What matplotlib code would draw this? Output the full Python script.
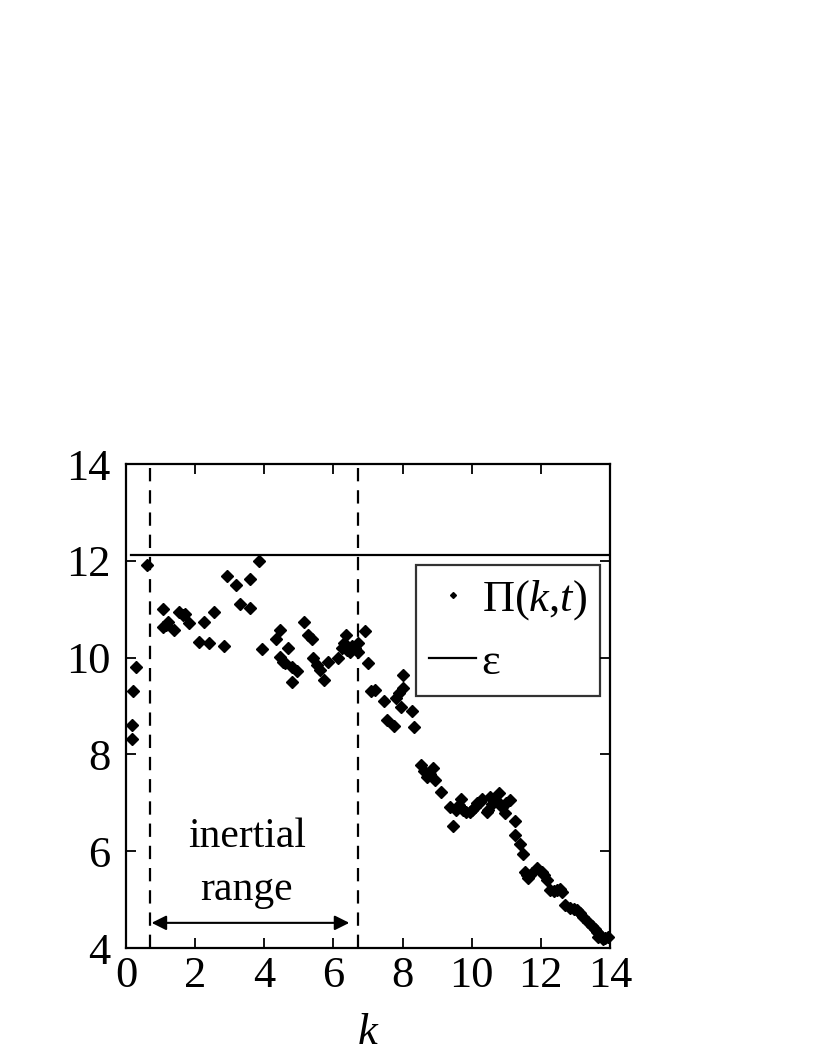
import numpy as np
import matplotlib
matplotlib.use("Agg")
import matplotlib.pyplot as plt

plt.rcParams['font.family'] = ['Liberation Serif', 'DejaVu Serif']
plt.rcParams['mathtext.fontset'] = 'custom'
plt.rcParams['mathtext.rm'] = 'Liberation Serif'
plt.rcParams['mathtext.it'] = 'Liberation Serif:italic'

# Pi(k,t) punkte
k_vals = [0.16, 0.18, 0.21, 0.28, 0.60, 1.08, 1.08, 1.15, 1.22, 1.40,
          1.54, 1.65, 1.71, 1.82, 2.11, 2.26, 2.40, 2.55, 2.82, 2.93,
          3.18, 3.30, 3.59, 3.59, 3.85, 3.93, 4.33, 4.45, 4.45, 4.55,
          4.60, 4.70, 4.79, 4.81, 4.94, 5.16, 5.27, 5.37, 5.42, 5.52,
          5.61, 5.73, 5.83, 6.14, 6.26, 6.30, 6.36, 6.40, 6.48, 6.55,
          6.62, 6.70, 6.72, 6.91, 7.01, 7.09, 7.20, 7.47, 7.54, 7.75,
          7.81, 7.90, 7.95, 8.02, 8.02, 8.26, 8.34, 8.53, 8.62, 8.70,
          8.80, 8.89, 8.94, 9.10, 9.37, 9.47, 9.55, 9.62, 9.68, 9.76,
          9.83, 9.95, 10.00, 10.10, 10.14, 10.24, 10.29, 10.43, 10.48, 10.53,
          10.60, 10.70, 10.80, 10.87, 10.96, 11.00, 11.11, 11.25, 11.25, 11.40,
          11.47, 11.54, 11.60, 11.64, 11.75, 11.88, 12.02, 12.10, 12.17, 12.26,
          12.38, 12.48, 12.55, 12.62, 12.70, 12.84, 12.95, 13.05, 13.13, 13.22,
          13.37, 13.47, 13.57, 13.61, 13.66, 13.72, 13.80, 13.86, 13.95]
pi_vals = [8.61, 8.31, 9.32, 9.80, 11.91, 11.00, 10.63, 10.68, 10.74, 10.57,
           10.95, 10.88, 10.90, 10.71, 10.32, 10.74, 10.31, 10.95, 10.23, 11.69,
           11.50, 11.10, 11.62, 11.03, 12.00, 10.17, 10.38, 10.57, 10.02, 9.90,
           9.88, 10.19, 9.81, 9.50, 9.73, 10.74, 10.47, 10.38, 9.99, 9.85,
           9.74, 9.54, 9.91, 10.00, 10.19, 10.30, 10.47, 10.15, 10.12, 10.25,
           10.20, 10.30, 10.12, 10.56, 9.88, 9.32, 9.33, 9.10, 8.72, 8.59,
           9.17, 9.26, 8.99, 9.64, 9.37, 8.90, 8.56, 7.78, 7.65, 7.54,
           7.60, 7.71, 7.47, 7.23, 6.92, 6.52, 6.85, 6.95, 7.07, 6.85,
           6.82, 6.82, 6.85, 6.92, 6.99, 7.02, 7.07, 6.82, 6.85, 7.13,
           6.98, 7.05, 7.20, 6.92, 6.78, 7.00, 7.06, 6.62, 6.33, 6.15,
           5.94, 5.58, 5.50, 5.44, 5.55, 5.65, 5.58, 5.50, 5.40, 5.20,
           5.18, 5.20, 5.22, 5.15, 4.89, 4.82, 4.80, 4.78, 4.72, 4.65,
           4.54, 4.46, 4.40, 4.34, 4.22, 4.27, 4.18, 4.20, 4.22]

eps = 12.12
inertial_lo = 0.7
inertial_hi = 6.7
x_ticks = [0, 2, 4, 6, 8, 10, 12, 14]
y_ticks = [4, 6, 8, 10, 12, 14]

fig = plt.figure(figsize=(8.22, 10.64), dpi=100)
ax = fig.add_axes([0.1533, 0.1090, 0.5888, 0.4549])

ax.plot(k_vals, pi_vals, 'D', color='black', markersize=6, clip_on=False,
        label=r'$\Pi(k{,}t)$')
ax.plot([0.15, 14], [eps, eps], '-', color='black', lw=1.6, label='ε')

# inertial range
for kk in (inertial_lo, inertial_hi):
    ax.axvline(kk, color='black', lw=1.6, linestyle=(0, (6, 4)))
ax.annotate('', xy=(0.74, 4.52), xytext=(6.46, 4.52),
            arrowprops=dict(arrowstyle='<|-|>', color='black', lw=1.5,
                            mutation_scale=22, shrinkA=0, shrinkB=0))
ax.text(3.49, 6.09, 'inertial', fontsize=30, ha='center', va='baseline')
ax.text(3.49, 4.99, 'range', fontsize=30, ha='center', va='baseline')

ax.set_xlim(0, 14)
ax.set_ylim(4, 14)
ax.set_xticks(x_ticks)
ax.set_yticks(y_ticks)
ax.tick_params(direction='in', top=True, right=True, length=7, width=1.3,
               labelsize=32)
ax.tick_params(axis='x', pad=6)
ax.tick_params(axis='y', pad=11)
for s in ax.spines.values():
    s.set_linewidth(1.6)
ax.set_xlabel('k', fontsize=32, fontstyle='italic', labelpad=12)

leg = ax.legend(loc='upper left', bbox_to_anchor=(0.599, 0.791),
                borderaxespad=0, fontsize=32, fancybox=False, frameon=True,
                handlelength=1.06, handletextpad=0.12, labelspacing=0.45,
                borderpad=0.3, markerscale=0.5, edgecolor='black')
leg.get_frame().set_linewidth(1.6)

fig.savefig('out.png', dpi=100)
